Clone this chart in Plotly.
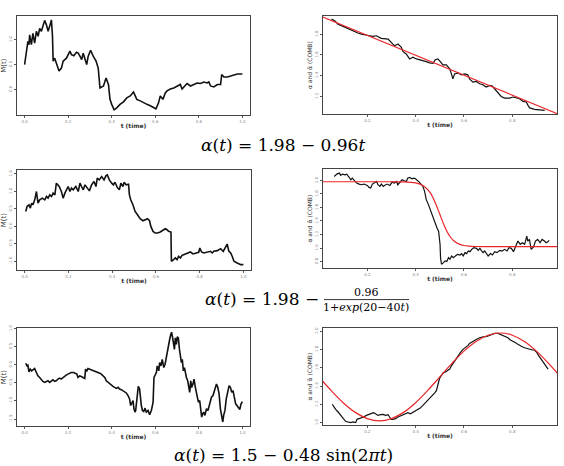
import plotly.graph_objects as go

# ---------------- data ----------------
# Panel 1: M(t), alpha(t) = 1.98 - 0.96t
m1_t = [0.000, 0.008, 0.015, 0.020, 0.023, 0.031, 0.038, 0.046, 0.054, 0.062, 0.069, 0.077, 0.085, 0.092,
        0.100, 0.108, 0.115, 0.123, 0.128, 0.131, 0.138, 0.149, 0.158, 0.169, 0.177, 0.192, 0.208, 0.215,
        0.226, 0.238, 0.246, 0.254, 0.262, 0.269, 0.285, 0.292, 0.303, 0.315, 0.328, 0.338, 0.346, 0.362,
        0.374, 0.385, 0.392, 0.400, 0.411, 0.423, 0.438, 0.454, 0.469, 0.485, 0.500, 0.508, 0.515, 0.531,
        0.546, 0.562, 0.577, 0.592, 0.603, 0.615, 0.623, 0.635, 0.646, 0.654, 0.669, 0.685, 0.700, 0.715,
        0.723, 0.738, 0.746, 0.762, 0.777, 0.792, 0.808, 0.823, 0.838, 0.846, 0.854, 0.869, 0.885, 0.900,
        0.905, 0.915, 0.931, 0.962, 0.977, 1.000]
m1_v = [0.50, 0.73, 0.97, 0.90, 1.10, 0.90, 1.13, 0.93, 1.17, 1.07, 1.23, 1.17, 1.30, 1.39,
        1.30, 1.17, 1.27, 1.40, 1.07, 0.57, 0.63, 0.50, 0.37, 0.43, 0.57, 0.63, 0.77, 0.70,
        0.68, 0.75, 0.73, 0.67, 0.60, 0.73, 0.50, 0.67, 0.79, 0.67, 0.57, 0.43, 0.03, 0.07,
        0.23, 0.10, -0.20, -0.30, -0.41, -0.37, -0.30, -0.25, -0.17, -0.13, -0.05, -0.13, -0.20, -0.23,
        -0.27, -0.30, -0.33, -0.37, -0.39, -0.27, -0.13, -0.20, -0.07, -0.03, 0.01, 0.03, 0.07, 0.10,
        0.01, 0.07, 0.12, 0.07, 0.10, 0.13, 0.12, 0.15, 0.13, 0.15, 0.07, 0.05, 0.10, 0.10,
        0.30, 0.25, 0.25, 0.29, 0.31, 0.31]

a1_t = [0.052, 0.065, 0.079, 0.099, 0.127, 0.148, 0.161, 0.175, 0.196, 0.210, 0.223, 0.237, 0.258, 0.272,
        0.286, 0.306, 0.313, 0.327, 0.341, 0.348, 0.361, 0.375, 0.389, 0.403, 0.423, 0.444, 0.458, 0.472,
        0.481, 0.492, 0.502, 0.513, 0.527, 0.541, 0.548, 0.554, 0.561, 0.575, 0.589, 0.603, 0.616, 0.623,
        0.637, 0.651, 0.665, 0.678, 0.692, 0.706, 0.717, 0.727, 0.741, 0.754, 0.768, 0.789, 0.803, 0.817,
        0.830, 0.844, 0.858, 0.865, 0.872, 0.892, 0.913, 0.934]
a1_v = [1.944, 1.928, 1.896, 1.873, 1.848, 1.822, 1.810, 1.800, 1.794, 1.784, 1.778, 1.784, 1.759, 1.759,
        1.752, 1.704, 1.688, 1.704, 1.672, 1.631, 1.609, 1.561, 1.577, 1.561, 1.551, 1.535, 1.523, 1.519,
        1.554, 1.561, 1.535, 1.503, 1.503, 1.465, 1.417, 1.369, 1.417, 1.427, 1.408, 1.417, 1.408, 1.369,
        1.337, 1.344, 1.322, 1.312, 1.290, 1.306, 1.299, 1.274, 1.242, 1.200, 1.184, 1.184, 1.194, 1.184,
        1.178, 1.152, 1.146, 1.114, 1.089, 1.076, 1.073, 1.066]
true1_t = [0.0, 1.0]
true1_v = [1.98, 1.02]

# Panel 2: alpha(t) = 1.98 - 0.96/(1+exp(20-40t))
m2_t = [0.005, 0.011, 0.020, 0.026, 0.032, 0.038, 0.046, 0.051, 0.054, 0.061, 0.069, 0.081, 0.092, 0.100,
        0.107, 0.115, 0.123, 0.130, 0.138, 0.145, 0.158, 0.168, 0.176, 0.184, 0.191, 0.199, 0.207, 0.214,
        0.222, 0.234, 0.245, 0.253, 0.260, 0.268, 0.276, 0.286, 0.296, 0.306, 0.317, 0.326, 0.332, 0.341,
        0.352, 0.363, 0.372, 0.378, 0.387, 0.398, 0.406, 0.413, 0.424, 0.433, 0.440, 0.449, 0.455, 0.464,
        0.475, 0.479, 0.485, 0.495, 0.505, 0.516, 0.528, 0.541, 0.551, 0.562, 0.571, 0.577, 0.587, 0.597,
        0.608, 0.620, 0.636, 0.643, 0.651, 0.658, 0.669, 0.671, 0.681, 0.689, 0.697, 0.704, 0.712, 0.720,
        0.727, 0.743, 0.758, 0.770, 0.781, 0.796, 0.801, 0.809, 0.819, 0.835, 0.850, 0.858, 0.865, 0.881,
        0.896, 0.908, 0.919, 0.926, 0.934, 0.942, 0.949, 0.957, 0.972, 0.988, 1.000]
m2_v = [0.426, 0.568, 0.616, 0.521, 0.663, 0.616, 0.759, 0.901, 0.996, 0.663, 0.759, 0.806, 0.759, 0.854,
        0.806, 0.901, 0.854, 0.949, 0.901, 1.234, 1.139, 0.996, 0.806, 0.949, 1.044, 1.139, 0.996, 1.091,
        1.044, 1.139, 0.996, 1.234, 1.139, 1.044, 1.186, 1.091, 1.015, 1.186, 1.281, 1.139, 1.376, 1.329,
        1.424, 1.329, 1.452, 1.471, 1.329, 1.234, 1.186, 1.262, 1.110, 1.044, 1.234, 1.139, 1.262, 1.186,
        1.205, 0.901, 0.759, 0.616, 0.426, 0.331, 0.217, 0.160, 0.188, 0.217, 0.160, -0.002, -0.145, -0.192,
        -0.192, -0.163, -0.097, -0.068, -0.097, -0.145, -0.163, -1.000, -0.952, -0.905, -0.952, -0.857, -0.905, -0.829,
        -0.810, -0.762, -0.734, -0.791, -0.762, -0.743, -0.620, -0.734, -0.762, -0.743, -0.715, -0.762, -0.715, -0.696,
        -0.639, -0.715, -0.572, -0.506, -0.715, -0.762, -0.857, -1.000, -1.048, -1.095, -1.095]

a2_t = [0.063, 0.074, 0.084, 0.090, 0.097, 0.107, 0.115, 0.125, 0.132, 0.138, 0.145, 0.156, 0.166, 0.175,
        0.186, 0.200, 0.207, 0.214, 0.221, 0.230, 0.238, 0.244, 0.252, 0.258, 0.266, 0.271, 0.282, 0.293,
        0.303, 0.312, 0.321, 0.326, 0.334, 0.344, 0.353, 0.362, 0.367, 0.375, 0.385, 0.392, 0.399, 0.405,
        0.415, 0.422, 0.430, 0.437, 0.444, 0.453, 0.463, 0.474, 0.481, 0.488, 0.495, 0.499, 0.501, 0.503,
        0.507, 0.515, 0.522, 0.529, 0.536, 0.542, 0.549, 0.556, 0.563, 0.573, 0.584, 0.590, 0.597, 0.604,
        0.611, 0.618, 0.625, 0.632, 0.641, 0.652, 0.659, 0.666, 0.673, 0.679, 0.686, 0.693, 0.700, 0.710,
        0.718, 0.727, 0.737, 0.748, 0.758, 0.768, 0.778, 0.786, 0.796, 0.805, 0.814, 0.823, 0.833, 0.841,
        0.851, 0.860, 0.864, 0.871, 0.878, 0.888, 0.896, 0.905, 0.915, 0.923, 0.933, 0.940, 0.947, 0.953]
a2_v = [2.059, 2.093, 2.108, 2.074, 2.093, 2.083, 2.093, 2.034, 2.010, 2.034, 2.010, 1.961, 1.946, 1.936,
        1.946, 1.926, 1.897, 1.887, 1.946, 1.961, 1.985, 1.936, 1.912, 1.946, 1.912, 1.926, 1.946, 1.926,
        1.975, 1.961, 1.985, 1.936, 1.975, 2.010, 1.995, 1.985, 2.034, 2.044, 2.025, 2.034, 2.025, 2.010,
        1.975, 1.946, 1.912, 1.838, 1.716, 1.642, 1.544, 1.446, 1.348, 1.299, 1.250, 1.152, 1.054, 0.858,
        0.760, 0.784, 0.809, 0.799, 0.858, 0.833, 0.882, 0.858, 0.882, 0.907, 0.897, 0.917, 0.882, 0.931,
        0.917, 0.956, 0.946, 0.980, 1.005, 0.995, 0.966, 0.995, 0.956, 0.931, 0.956, 0.907, 0.882, 0.917,
        0.897, 0.946, 0.931, 0.966, 0.956, 0.980, 0.956, 1.005, 0.995, 0.946, 1.029, 1.103, 1.054, 1.078,
        1.054, 1.176, 1.103, 1.127, 0.980, 1.015, 1.103, 1.127, 1.078, 1.127, 1.103, 1.078, 1.093, 1.113]
true2_t = [0.00, 0.30, 0.35, 0.38, 0.40, 0.42, 0.44, 0.46, 0.48, 0.50, 0.52, 0.54, 0.56, 0.58,
           0.60, 0.62, 0.65, 0.70, 1.00]
true2_v = [1.980, 1.980, 1.978, 1.972, 1.963, 1.942, 1.900, 1.819, 1.682, 1.500, 1.318, 1.181, 1.100, 1.058,
           1.037, 1.028, 1.022, 1.020, 1.020]

# Panel 3: alpha(t) = 1.5 - 0.48 sin(2 pi t)
m3_t = [0.005, 0.011, 0.015, 0.020, 0.026, 0.032, 0.038, 0.046, 0.054, 0.061, 0.069, 0.077, 0.084, 0.092,
        0.100, 0.107, 0.115, 0.123, 0.130, 0.138, 0.145, 0.153, 0.161, 0.168, 0.176, 0.184, 0.191, 0.199,
        0.207, 0.214, 0.225, 0.234, 0.240, 0.245, 0.253, 0.260, 0.268, 0.276, 0.280, 0.286, 0.291, 0.299,
        0.306, 0.314, 0.322, 0.329, 0.337, 0.345, 0.352, 0.360, 0.368, 0.375, 0.383, 0.391, 0.398, 0.406,
        0.413, 0.421, 0.429, 0.436, 0.444, 0.452, 0.459, 0.467, 0.475, 0.482, 0.487, 0.492, 0.498, 0.502,
        0.507, 0.510, 0.516, 0.522, 0.528, 0.531, 0.536, 0.541, 0.547, 0.553, 0.559, 0.567, 0.574, 0.582,
        0.590, 0.594, 0.600, 0.605, 0.609, 0.616, 0.620, 0.626, 0.632, 0.639, 0.645, 0.651, 0.655, 0.660,
        0.666, 0.671, 0.675, 0.681, 0.688, 0.692, 0.697, 0.701, 0.706, 0.711, 0.715, 0.720, 0.724, 0.729,
        0.734, 0.738, 0.743, 0.749, 0.753, 0.758, 0.763, 0.767, 0.773, 0.778, 0.784, 0.789, 0.793, 0.798,
        0.804, 0.809, 0.813, 0.818, 0.822, 0.828, 0.835, 0.842, 0.850, 0.858, 0.865, 0.873, 0.881, 0.887,
        0.893, 0.899, 0.905, 0.910, 0.914, 0.920, 0.926, 0.933, 0.939, 0.945, 0.951, 0.957, 0.963, 0.969,
        0.975, 0.982, 0.988, 0.994, 1.000]
m3_v = [0.042, -0.031, -0.013, -0.195, -0.122, -0.168, -0.141, -0.104, -0.214, -0.305, -0.350, -0.414, -0.460, -0.487,
        -0.469, -0.442, -0.487, -0.442, -0.414, -0.460, -0.442, -0.396, -0.369, -0.396, -0.350, -0.305, -0.286, -0.259,
        -0.232, -0.214, -0.214, -0.232, -0.259, -0.350, -0.305, -0.323, -0.350, -0.378, -0.122, -0.168, -0.104, -0.122,
        -0.141, -0.168, -0.168, -0.195, -0.214, -0.232, -0.259, -0.305, -0.350, -0.442, -0.487, -0.533, -0.578, -0.597,
        -0.624, -0.651, -0.624, -0.670, -0.688, -0.715, -0.743, -0.779, -0.852, -0.943, -1.126, -1.053, -0.989, -1.217,
        -1.308, -1.263, -0.852, -0.597, -0.670, -0.898, -1.126, -1.263, -1.290, -1.199, -1.308, -1.263, -1.381, -1.263,
        -1.035, -0.350, -0.259, -0.214, -0.031, -0.168, 0.060, -0.031, 0.151, -0.077, 0.015, 0.243, 0.334, 0.471,
        0.699, 0.836, 0.900, 0.699, 0.425, 0.745, 0.562, 0.772, 0.745, 0.425, 0.243, 0.060, 0.151, -0.168,
        -0.077, -0.259, -0.350, -0.442, -0.624, -0.761, -0.442, -0.624, -0.533, -0.396, -0.624, -0.807, -0.943, -1.035,
        -0.989, -1.308, -1.445, -1.354, -1.308, -1.400, -1.217, -1.263, -1.035, -0.898, -0.852, -0.715, -0.533, -0.624,
        -0.807, -1.217, -1.400, -1.582, -1.400, -1.263, -0.943, -0.761, -0.578, -0.624, -0.761, -0.715, -0.898, -1.080,
        -1.126, -1.172, -1.235, -1.080, -1.016]

a3_t = [0.055, 0.061, 0.069, 0.079, 0.088, 0.097, 0.102, 0.110, 0.120, 0.130, 0.141, 0.152, 0.157, 0.166,
        0.175, 0.185, 0.196, 0.207, 0.217, 0.226, 0.234, 0.244, 0.254, 0.265, 0.276, 0.286, 0.292, 0.299,
        0.306, 0.317, 0.327, 0.337, 0.348, 0.359, 0.368, 0.378, 0.389, 0.400, 0.410, 0.419, 0.430, 0.441,
        0.451, 0.461, 0.469, 0.479, 0.486, 0.492, 0.499, 0.506, 0.513, 0.520, 0.530, 0.541, 0.548, 0.557,
        0.566, 0.575, 0.585, 0.596, 0.607, 0.617, 0.623, 0.637, 0.651, 0.665, 0.679, 0.692, 0.706, 0.717,
        0.727, 0.741, 0.750, 0.761, 0.772, 0.782, 0.792, 0.803, 0.814, 0.823, 0.833, 0.841, 0.851, 0.861,
        0.872, 0.883, 0.892, 0.902, 0.910, 0.920, 0.930, 0.938, 0.948]
a3_v = [1.199, 1.170, 1.144, 1.116, 1.087, 1.061, 1.036, 1.014, 1.007, 1.000, 1.007, 1.000, 1.036, 1.043,
        1.051, 1.061, 1.079, 1.087, 1.097, 1.108, 1.097, 1.079, 1.087, 1.090, 1.079, 1.087, 1.061, 1.036,
        1.036, 1.043, 1.061, 1.072, 1.079, 1.097, 1.108, 1.097, 1.116, 1.134, 1.152, 1.159, 1.188, 1.217,
        1.242, 1.267, 1.296, 1.325, 1.350, 1.404, 1.484, 1.513, 1.542, 1.549, 1.567, 1.585, 1.621, 1.657,
        1.693, 1.736, 1.765, 1.801, 1.819, 1.845, 1.866, 1.892, 1.910, 1.928, 1.939, 1.939, 1.953, 1.964,
        1.975, 1.975, 1.964, 1.953, 1.946, 1.928, 1.903, 1.892, 1.874, 1.856, 1.838, 1.830, 1.819, 1.809,
        1.801, 1.794, 1.794, 1.765, 1.729, 1.693, 1.657, 1.621, 1.585]
true3_t = [0.00, 0.05, 0.10, 0.15, 0.20, 0.25, 0.30, 0.35, 0.40, 0.45, 0.50,
           0.55, 0.60, 0.65, 0.70, 0.75, 0.80, 0.85, 0.90, 0.95, 1.00]
true3_v = [1.500, 1.352, 1.218, 1.112, 1.044, 1.020, 1.044, 1.112, 1.218, 1.352, 1.500,
           1.648, 1.782, 1.888, 1.956, 1.980, 1.956, 1.888, 1.782, 1.648, 1.500]

left_xticks = [0.0, 0.2, 0.4, 0.6, 0.8, 1.0]
right_xticks = [0.2, 0.4, 0.6, 0.8]
m1_yticks = [0.0, 0.5, 1.0]
m2_yticks = [-1.0, -0.5, 0.0, 0.5, 1.0, 1.5]
m3_yticks = [-1.5, -1.0, -0.5, 0.0, 0.5, 1.0]
a1_yticks = [1.2, 1.4, 1.6, 1.8]
a2_yticks = [0.8, 1.0, 1.2, 1.4, 1.6, 1.8, 2.0]
a3_yticks = [1.0, 1.2, 1.4, 1.6, 1.8, 2.0]

SP = "&nbsp;"
captions = [f"<i>α</i>(<i>t</i>){SP}={SP}1.98{SP}−{SP}0.96<i>t</i>",
            f"<i>α</i>(<i>t</i>){SP}={SP}1.98{SP}−",
            f"<i>α</i>(<i>t</i>){SP}={SP}1.5{SP}−{SP}0.48{SP}sin(2<i>πt</i>)"]
frac_num = "0.96"
frac_den = "1+<i>exp</i>(20−40<i>t</i>)"

# ---------------- figure ----------------
W, H = 564, 466
BLACK = "#111111"
RED = "#e8262a"

fig = go.Figure()

def px_x(a, b):
    return [a / W, b / W]

def px_y(top, bottom):
    return [1 - bottom / H, 1 - top / H]

panels = [
    (1, (17, 250), (13, 113), [-0.035, 1.035], [-0.52, 1.48], left_xticks, m1_yticks, "M(t)"),
    (2, (323, 557), (13, 112), [0.0166, 0.985], [1.028, 1.975], right_xticks, a1_yticks, "α and α̂ (COMB)"),
    (3, (17, 251), (168, 269), [-0.035, 1.035], [-1.257, 1.614], left_xticks, m2_yticks, "M(t)"),
    (4, (323, 557), (167, 267), [0.0166, 0.985], [0.70, 2.17], right_xticks, a2_yticks, "α and α̂ (COMB)"),
    (5, (17, 250), (327, 426), [-0.035, 1.035], [-1.70, 1.02], left_xticks, m3_yticks, "M(t)"),
    (6, (323, 557), (327, 425), [0.0166, 0.985], [0.971, 2.036], right_xticks, a3_yticks, "α and α̂ (COMB)"),
]

series = {
    1: [(m1_t, m1_v, BLACK, 1.6)],
    2: [(a1_t, a1_v, BLACK, 1.2), (true1_t, true1_v, RED, 1.2)],
    3: [(m2_t, m2_v, BLACK, 1.6)],
    4: [(a2_t, a2_v, BLACK, 1.2), (true2_t, true2_v, RED, 1.2)],
    5: [(m3_t, m3_v, BLACK, 1.6)],
    6: [(a3_t, a3_v, BLACK, 1.2), (true3_t, true3_v, RED, 1.2)],
}

layout = dict(
    width=W, height=H, margin=dict(l=0, r=0, t=0, b=0),
    paper_bgcolor="white", plot_bgcolor="white", showlegend=False,
)

for idx, xd, yd, xr, yr, xt, yt, ytitle in panels:
    sfx = "" if idx == 1 else str(idx)
    for (tx, vy, col, lw) in series[idx]:
        shape = "spline" if col == RED and idx != 2 else "linear"
        fig.add_trace(go.Scatter(x=tx, y=vy, mode="lines",
                                 line=dict(color=col, width=lw, shape=shape),
                                 xaxis="x" + sfx, yaxis="y" + sfx, hoverinfo="skip"))
    layout["xaxis" + sfx] = dict(
        domain=px_x(*xd), anchor="y" + sfx, range=xr, tickvals=xt,
        ticktext=[f"{v:.1f}" for v in xt], ticks="outside", ticklen=2, tickwidth=0.8,
        tickcolor="#555", showline=True, mirror=True, linecolor="#444", linewidth=1,
        showgrid=False, zeroline=False, tickfont=dict(size=4, color="#888", family="DejaVu Sans"),
        title=dict(text="<b>t (time)</b>", font=dict(size=6, color="#333", family="DejaVu Sans"), standoff=0),
    )
    layout["yaxis" + sfx] = dict(
        domain=px_y(*yd), anchor="x" + sfx, range=yr, tickvals=yt,
        ticktext=[f"{v:.1f}" for v in yt], ticks="outside", ticklen=2, tickwidth=0.8,
        tickcolor="#555", showline=True, mirror=True, linecolor="#444", linewidth=1,
        showgrid=False, zeroline=False, tickangle=-90,
        tickfont=dict(size=4, color="#888", family="DejaVu Sans"),
        title=dict(text=ytitle, font=dict(size=6 if idx % 2 == 0 else 7, color="#333", family="DejaVu Sans"),
                   standoff=1),
    )

fig.update_layout(**layout)

SERIF = "DejaVu Serif"
fig.add_annotation(x=283 / W, y=1 - 143 / H, xref="paper", yref="paper", text=captions[0],
                   showarrow=False, font=dict(size=17, family=SERIF, color="black"),
                   xanchor="center", yanchor="middle")
fig.add_annotation(x=321 / W, y=1 - 298 / H, xref="paper", yref="paper", text=captions[1],
                   showarrow=False, font=dict(size=17, family=SERIF, color="black"),
                   xanchor="right", yanchor="middle")
fig.add_annotation(x=366 / W, y=1 - 291 / H, xref="paper", yref="paper", text=frac_num,
                   showarrow=False, font=dict(size=11, family=SERIF, color="black"),
                   xanchor="center", yanchor="middle")
fig.add_annotation(x=366 / W, y=1 - 306 / H, xref="paper", yref="paper", text=frac_den,
                   showarrow=False, font=dict(size=11, family=SERIF, color="black"),
                   xanchor="center", yanchor="middle")
fig.add_shape(type="line", xref="paper", yref="paper", x0=324 / W, x1=409 / W,
              y0=1 - 298.5 / H, y1=1 - 298.5 / H, line=dict(color="black", width=0.8))
fig.add_annotation(x=283 / W, y=1 - 455 / H, xref="paper", yref="paper", text=captions[2],
                   showarrow=False, font=dict(size=17, family=SERIF, color="black"),
                   xanchor="center", yanchor="middle")

fig.write_html("out.html")
